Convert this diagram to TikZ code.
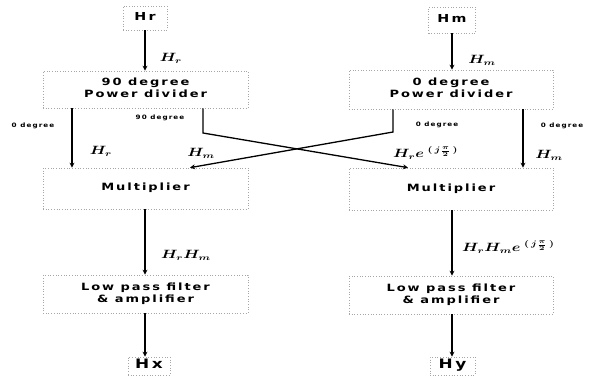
\documentclass[tikz,border=0pt]{standalone}
\usepackage{fontspec}
\usepackage{graphicx}
\usepackage{amsmath}
\usetikzlibrary{arrows.meta}
\newfontfamily\bxf[LetterSpace=15]{DejaVu Sans}
\newcommand{\btxt}[2][10]{\scalebox{1.3}[1]{\fontsize{#1}{12}\selectfont\bxf\bfseries\begin{tabular}{@{}c@{}}#2\end{tabular}}}
\newcommand{\mtxt}[1]{\scalebox{1.3}[1]{\large\boldmath$#1$}}
\tikzset{
  blk/.style={draw=gray!70, dotted, line width=0.7pt, inner sep=0pt},
  arr/.style={line width=1.3pt, -{Stealth[length=5pt,width=5pt]}},
  deg/.style={inner sep=0pt, font=\fontsize{6}{7}\selectfont\bxf\bfseries},
  lbl/.style={inner sep=0pt}
}
\begin{document}
\begin{tikzpicture}[x=1pt,y=-1pt]
\useasboundingbox (0,0) rectangle (590,378);
% blocks
\node[blk, minimum width=44, minimum height=24] (hr) at (145,18) {\btxt[11]{Hr}};
\node[blk, minimum width=47, minimum height=26] (hm) at (452,20) {\btxt[11]{Hm}};
\node[blk, minimum width=205, minimum height=37] (pd1) at (145.5,89.5) {\btxt{90 degree\\Power divider}};
\node[blk, minimum width=204, minimum height=39] (pd2) at (451,89.5) {\btxt{0 degree\\Power divider}};
\node[blk, minimum width=205, minimum height=41] (mul1) at (145.5,188.5) {\btxt{Multiplier}};
\node[blk, minimum width=204, minimum height=42] (mul2) at (451,189) {\btxt{Multiplier}};
\node[blk, minimum width=205, minimum height=38] (lp1) at (145.5,294) {\btxt{Low pass filter\\\& amplifier}};
\node[blk, minimum width=204, minimum height=38] (lp2) at (451,295) {\btxt{Low pass filter\\\& amplifier}};
\node[blk, minimum width=42, minimum height=18] (hx) at (149,366) {\btxt[13]{Hx}};
\node[blk, minimum width=45, minimum height=18] (hy) at (452.5,366) {\btxt[13]{Hy}};
% helper coordinates
\coordinate (xl) at (145,0);
\coordinate (xr) at (452,0);
\coordinate (o1) at (72,0);
\coordinate (o4) at (523,0);
\coordinate (c1) at (203,133);
\coordinate (c2) at (393,132);
\coordinate (t1) at (408,0);
\coordinate (t2) at (190,0);
% connectors
\draw[arr] (hr.south -| xl) -- (pd1.north -| xl);
\draw[arr] (hm.south -| xr) -- (pd2.north -| xr);
\draw[arr] (pd1.south -| o1) -- (mul1.north -| o1);
\draw[arr] (pd2.south -| o4) -- (mul2.north -| o4);
\draw[arr] (pd1.south -| c1) -- (c1) -- (mul2.north -| t1);
\draw[arr] (pd2.south -| c2) -- (c2) -- (mul1.north -| t2);
\draw[arr] (mul1.south -| xl) -- (lp1.north -| xl);
\draw[arr] (mul2.south -| xr) -- (lp2.north -| xr);
\draw[arr] (lp1.south -| xl) -- (hx.north -| xl);
\draw[arr] (lp2.south -| xr) -- (hy.north -| xr);
% labels
\node[lbl] (l1) at (171,58) {\mtxt{H_r}};
\node[lbl] (l2) at (482,60) {\mtxt{H_m}};
\node[deg] (d1) at (33,126) {\scalebox{1.2}[1]{0 degree}};
\node[deg] (d2) at (160,118) {\scalebox{1.2}[1]{90 degree}};
\node[deg] (d3) at (437,125) {\scalebox{1.2}[1]{0 degree}};
\node[deg] (d4) at (562,126) {\scalebox{1.2}[1]{0 degree}};
\node[lbl] (l3) at (101,151) {\mtxt{H_r}};
\node[lbl] (l4) at (201,153) {\mtxt{H_m}};
\node[lbl, anchor=west] (l5) at (393,153) {\mtxt{H_r e^{\;(\,j\frac{\pi}{2}\,)}}};
\node[lbl] (l6) at (549,155) {\mtxt{H_m}};
\node[lbl] (l7) at (186,255) {\mtxt{H_r H_m}};
\node[lbl, anchor=west] (l8) at (462,247) {\mtxt{H_r H_m e^{\;(\,j\frac{\pi}{2}\,)}}};
\end{tikzpicture}
\end{document}
